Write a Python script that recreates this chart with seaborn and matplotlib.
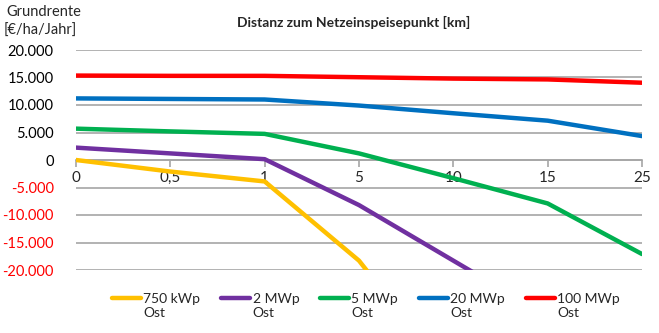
import matplotlib
matplotlib.use("Agg")
import matplotlib.pyplot as plt
import seaborn as sns
import pandas as pd
from matplotlib.ticker import FuncFormatter
from matplotlib.legend_handler import HandlerLine2D

distances = ["0", "0,5", "1", "5", "10", "15", "25"]
series_names = ["750 kWp\nOst", "2 MWp\nOst", "5 MWp\nOst", "20 MWp\nOst", "100 MWp\nOst"]
v_750kwp = [0, -2100, -3900, -18300, -40000, -60000, -90000]
v_2mwp = [2250, 1200, 150, -8200, -18300, -28400, -38500]
v_5mwp = [5700, 5200, 4750, 1200, -3300, -7900, -17100]
v_20mwp = [11200, 11100, 11000, 9900, 8500, 7150, 4350]
v_100mwp = [15350, 15300, 15300, 15050, 14800, 14650, 14050]
colors = ["#FFC000", "#7030A0", "#00B050", "#0070C0", "#FF0000"]

sns.set_theme(style="white")
plt.rcParams['font.family'] = ['Lato', 'DejaVu Sans']


class UpHandler(HandlerLine2D):
    def create_artists(self, legend, orig_handle, xdescent, ydescent, width, height,
                       fontsize, trans):
        arts = super().create_artists(legend, orig_handle, xdescent, ydescent, width,
                                      height, fontsize, trans)
        for a in arts:
            if hasattr(a, "get_ydata"):
                a.set_ydata([y + 0.62 * fontsize for y in a.get_ydata()])
        return arts


rows = []
for name, vals in zip(series_names, [v_750kwp, v_2mwp, v_5mwp, v_20mwp, v_100mwp]):
    for i, v in enumerate(vals):
        rows.append({"pos": i, "val": v, "series": name})
df = pd.DataFrame(rows)

fig = plt.figure(figsize=(6.59, 3.33), dpi=100)
ax = fig.add_axes([76/659, 1-270/333, (642-76)/659, 220/333])

for y in range(-20000, 20001, 5000):
    ax.axhline(y, color="#a6a6a6", lw=1.2, zorder=0)

sns.lineplot(data=df, x="pos", y="val", hue="series", palette=colors,
             hue_order=series_names, lw=3.2, ax=ax, legend=True, zorder=3)

ax.set_xlim(0, len(distances)-1)
ax.set_ylim(-20000, 20000)
ax.set_xticks(range(len(distances)))
ax.set_xticklabels(distances, fontsize=10)
ax.set_yticks(range(-20000, 20001, 5000))
ax.yaxis.set_major_formatter(FuncFormatter(lambda v, p: f"{int(v):,}".replace(",", ".")))
ax.tick_params(axis="y", length=0, pad=16, labelsize=10.5)
for sp in ["top", "right", "left"]:
    ax.spines[sp].set_visible(False)
ax.spines["bottom"].set_position(("data", 0))
ax.spines["bottom"].set_color("#a6a6a6")
ax.spines["bottom"].set_linewidth(1.2)
ax.tick_params(axis="x", direction="out", length=5, width=1.2, color="#a6a6a6", pad=3,
               bottom=True)
ax.set_xlabel("")
ax.set_ylabel("")
for lbl, v in zip(ax.get_yticklabels(), ax.get_yticks()):
    lbl.set_color("red" if v < 0 else "black")

ax.legend_.remove()
handles, labels = ax.get_legend_handles_labels()
fig.legend(handles, labels, loc="center", bbox_to_anchor=(366/659, 1-306/333), ncol=5,
           frameon=False, fontsize=10, handlelength=2.1, handletextpad=0.15,
           columnspacing=1.5, handler_map={h: UpHandler() for h in handles})

fig.text(354/659, 1-22/333, "Distanz zum Netzeinspeisepunkt [km]", ha="center", va="center",
         fontsize=10, fontweight="bold")
fig.text(6/659, 1-12/333, "Grundrente", ha="left", va="center", fontsize=10.5)
fig.text(4/659, 1-31/333, "[€/ha/Jahr]", ha="left", va="center", fontsize=10.5)

fig.savefig("out.png", dpi=100)
